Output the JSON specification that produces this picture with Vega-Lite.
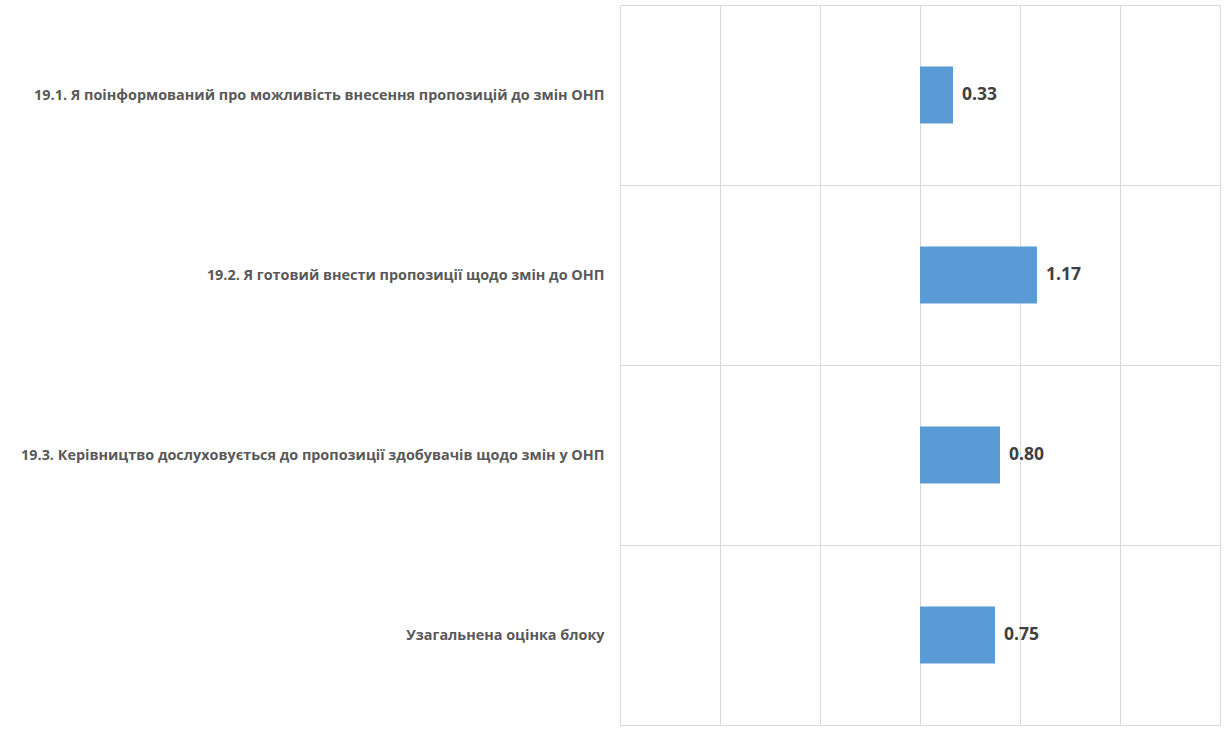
{
  "$schema": "https://vega.github.io/schema/vega-lite/v6.json",
  "width": 600,
  "height": 720,
  "autosize": {"type": "none"},
  "padding": {"left": 620, "top": 5, "right": 4, "bottom": 12},
  "background": "white",
  "config": {
    "view": {"stroke": "#D9D9D9", "strokeWidth": 1},
    "font": "Open Sans"
  },
  "data": {
    "values": [
      {"item": "19.1. Я поінформований про можливість внесення пропозицій до змін ОНП", "value": 0.33},
      {"item": "19.2. Я готовий внести пропозиції щодо змін до ОНП", "value": 1.17},
      {"item": "19.3. Керівництво дослуховується до пропозиції здобувачів щодо змін у ОНП", "value": 0.80},
      {"item": "Узагальнена оцінка блоку", "value": 0.75}
    ]
  },
  "encoding": {
    "y": {
      "field": "item",
      "type": "nominal",
      "sort": null,
      "title": null,
      "scale": {"paddingInner": 0, "paddingOuter": 0},
      "axis": {
        "ticks": false,
        "domain": false,
        "grid": true,
        "gridColor": "#D9D9D9",
        "gridWidth": 1,
        "tickBand": "extent",
        "labelFont": "Open Sans",
        "labelFontWeight": "bold",
        "labelFontSize": 14.4,
        "labelColor": "#595959",
        "labelPadding": 16,
        "labelLimit": 0
      }
    },
    "x": {
      "field": "value",
      "type": "quantitative",
      "title": null,
      "scale": {"domain": [-3, 3], "nice": false, "zero": false},
      "axis": {
        "values": [-3, -2, -1, 0, 1, 2, 3],
        "labels": false,
        "ticks": false,
        "domain": false,
        "grid": true,
        "gridColor": "#D9D9D9",
        "gridWidth": 1
      }
    }
  },
  "layer": [
    {
      "mark": {"type": "bar", "color": "#5B9BD5", "height": {"band": 0.317}},
      "encoding": {
        "x": {"field": "value", "type": "quantitative"},
        "x2": {"datum": 0}
      }
    },
    {
      "mark": {
        "type": "text",
        "align": "left",
        "baseline": "middle",
        "dx": 9,
        "fontSize": 17.5,
        "fontWeight": "bold",
        "font": "Open Sans",
        "color": "#404040"
      },
      "encoding": {
        "text": {"field": "value", "type": "quantitative", "format": ".2f"}
      }
    }
  ]
}
